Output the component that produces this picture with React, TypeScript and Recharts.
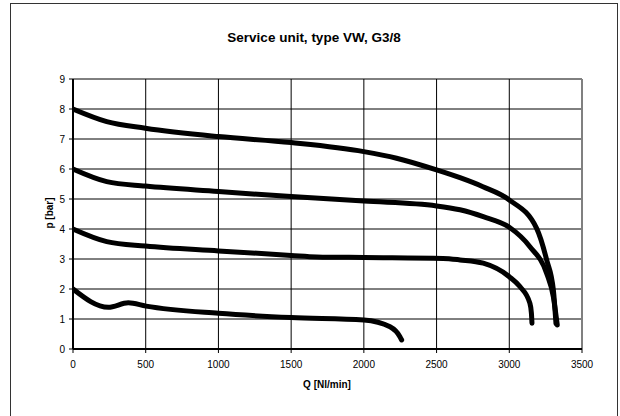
import React from "react";
import { LineChart, Line, XAxis, YAxis, CartesianGrid, ReferenceLine } from "recharts";

const xTicks = [0, 500, 1000, 1500, 2000, 2500, 3000, 3500];
const yTicks = [0, 1, 2, 3, 4, 5, 6, 7, 8, 9];

const q8 = [0, 232, 498, 1000, 1500, 2000, 2225, 2500, 2661, 2819, 3000, 3188, 3257, 3303, 3321];
const p8 = [8, 7.58, 7.36, 7.08, 6.88, 6.58, 6.36, 5.97, 5.71, 5.41, 4.97, 4.02, 2.97, 1.97, 0.85];

const q6 = [0, 232, 498, 1000, 1500, 2000, 2500, 2661, 2821, 3000, 3142, 3257, 3303, 3330];
const p6 = [6, 5.58, 5.43, 5.25, 5.08, 4.93, 4.77, 4.64, 4.41, 4.06, 3.41, 2.52, 1.74, 0.8];

const q4 = [0, 232, 498, 1000, 1500, 1676, 2000, 2544, 2661, 2821, 3000, 3073, 3142, 3152, 3156];
const p4 = [4, 3.58, 3.43, 3.27, 3.12, 3.07, 3.05, 3.02, 2.97, 2.86, 2.41, 2.08, 1.52, 1.2, 0.86];

const q2 = [0, 243, 380, 502, 1000, 1500, 2000, 2180, 2248, 2260];
const p2 = [2, 1.39, 1.54, 1.43, 1.19, 1.05, 0.97, 0.74, 0.41, 0.3];

const toData = (q: number[], p: number[]) => q.map((x, i) => ({ q: x, p: p[i] }));

const series = [toData(q8, p8), toData(q6, p6), toData(q4, p4), toData(q2, p2)];

const font = "'Liberation Sans', Arial, sans-serif";

export default function App() {
  return (
    <div style={{ position: "absolute", left: 0, top: 0, width: 620, height: 416, overflow: "hidden", background: "#fff", fontFamily: font }}>
      <div style={{ position: "absolute", left: 10, top: 3, width: 606, height: 430, border: "1.5px solid #333" }} />
      <div style={{ position: "absolute", left: 10, width: 608, top: 30, textAlign: "center", fontWeight: "bold", fontSize: 13.5, color: "#000" }}>
        Service unit, type VW, G3/8
      </div>
      <div style={{ position: "absolute", left: 49, top: 213, width: 0, height: 0 }}>
        <div style={{ position: "absolute", transform: "translate(-50%,-50%) rotate(-90deg)", whiteSpace: "nowrap", fontWeight: "bold", fontSize: 10, color: "#000" }}>
          p [bar]
        </div>
      </div>
      <div style={{ position: "absolute", left: 227, width: 200, top: 379, textAlign: "center", fontWeight: "bold", fontSize: 10, color: "#000" }}>
        Q [Nl/min]
      </div>
      <div style={{ position: "absolute", left: 0, top: 0 }}>
        <LineChart width={620} height={416} margin={{ top: 79, right: 38, bottom: 37, left: 13 }}>
          <CartesianGrid stroke="#000" strokeWidth={1} />
          <XAxis
            type="number"
            dataKey="q"
            domain={[0, 3500]}
            ticks={xTicks}
            allowDataOverflow
            height={30}
            tickSize={4}
            tickMargin={8}
            tick={{ fontSize: 10, fill: "#000", fontFamily: font }}
            axisLine={{ stroke: "#000", strokeWidth: 2 }}
            tickLine={{ stroke: "#000" }}
          />
          <YAxis
            type="number"
            domain={[0, 9]}
            ticks={yTicks}
            width={60}
            tickSize={4}
            tickMargin={4}
            tick={{ fontSize: 10, fill: "#000", fontFamily: font }}
            axisLine={{ stroke: "#000", strokeWidth: 2 }}
            tickLine={{ stroke: "#000" }}
          />
          <ReferenceLine x={3500} stroke="#808080" strokeWidth={2} />
          {series.map((d, i) => (
            <Line
              key={i}
              data={d}
              dataKey="p"
              type="monotone"
              stroke="#000"
              strokeWidth={5}
              strokeLinecap="round"
              strokeLinejoin="round"
              dot={false}
              activeDot={false}
              isAnimationActive={false}
            />
          ))}
        </LineChart>
      </div>
    </div>
  );
}
